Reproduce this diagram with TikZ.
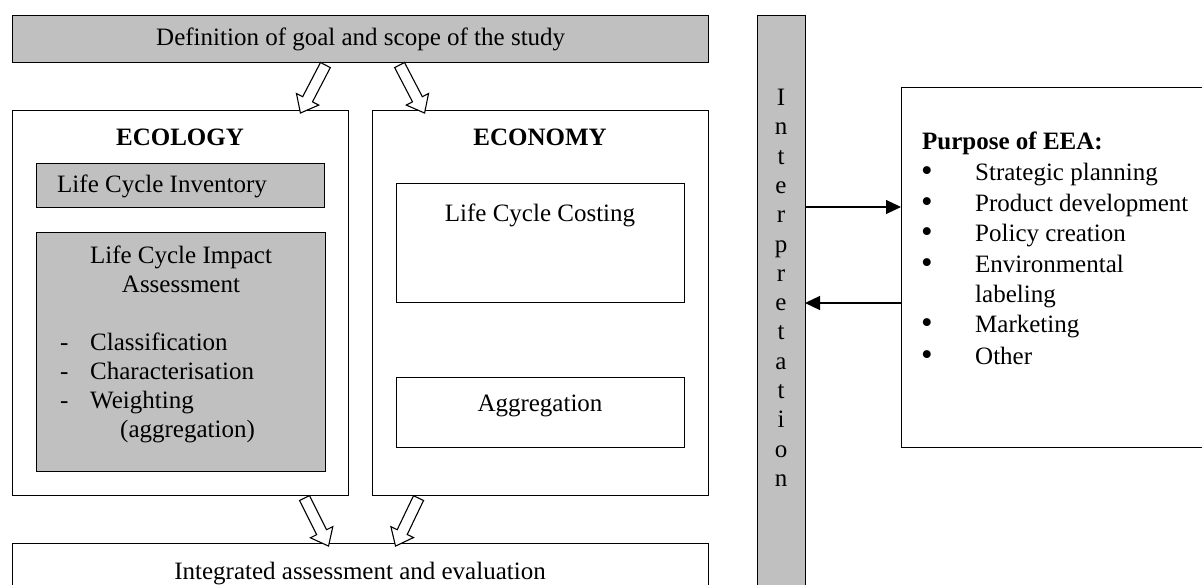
\documentclass[tikz,border=0pt]{standalone}
\usepackage{fontspec}
\setmainfont{Liberation Serif}
\usetikzlibrary{arrows.meta,shapes.arrows,calc}
\definecolor{boxgray}{HTML}{C0C0C0}
\newcommand\fsN{\fontsize{25}{29}\selectfont}
\newcommand\hollowarrow[2]{\path let \p1=($(#2)-(#1)$), \n1={atan2(\y1,\x1)}, \n2={veclen(\x1,\y1)} in node[hollow, minimum height=\n2, rotate=\n1] at ($(#1)!0.5!(#2)$) {};}
\begin{document}
\begin{tikzpicture}[x=1pt,y=-1pt,
  box/.style={draw, line width=1.4pt, inner sep=0pt, anchor=north west},
  gbox/.style={box, fill=boxgray},
  txt/.style={font=\fsN, inner sep=0pt},
  bullettxt/.style={font=\fontsize{33}{33}\selectfont, inner sep=0pt, anchor=base west},
  hollow/.style={single arrow, draw, line width=1.1pt, fill=white, inner sep=5pt, minimum width=24pt, single arrow head extend=7pt, single arrow tip angle=78, single arrow head indent=0pt},
  link/.style={line width=1.2pt, -{Triangle[length=15pt,width=14pt]}}]
\useasboundingbox (0,0) rectangle (1202,585);
\clip (0,0) rectangle (1202,585);
% top box
\node[gbox, minimum width=696pt, minimum height=47pt, font=\fsN] (goal) at (12,15) {Definition of goal and scope of the study};
% ecology
\node[box, minimum width=336pt, minimum height=385pt] (eco) at (12,110) {};
\node[txt, font=\fsN\bfseries, anchor=base] (ecot) at (180,146) {ECOLOGY};
\node[gbox, minimum width=288pt, minimum height=44pt] (lci) at (36,163) {};
\node[txt, anchor=base west] (lcit) at (57,193) {Life Cycle Inventory};
\node[gbox, minimum width=289pt, minimum height=239pt] (lcia) at (36,232) {};
\node[txt, anchor=base] (lciat1) at (181,264) {Life Cycle Impact};
\node[txt, anchor=base] (lciat2) at (181,293) {Assessment};
\foreach \yy/\t [count=\i] in {350/Classification, 379/Characterisation, 408/Weighting}{
  \node[txt, anchor=base west] (dash\i) at (60,\yy) {-};
  \node[txt, anchor=base west] (item\i) at (90,\yy) {\t};
}
\node[txt, anchor=base west] (item4) at (120,437) {(aggregation)};
% economy
\node[box, minimum width=336pt, minimum height=385pt] (econ) at (372,110) {};
\node[txt, font=\fsN\bfseries, anchor=base] (econt) at (540,146) {ECONOMY};
\node[box, minimum width=288pt, minimum height=119pt] (lcc) at (396,183) {};
\node[txt, anchor=base] (lcct) at (540,222) {Life Cycle Costing};
\node[box, minimum width=288pt, minimum height=70pt] (agg) at (396,377) {};
\node[txt, anchor=base] (aggt) at (540,411) {Aggregation};
% bottom
\node[box, minimum width=696pt, minimum height=70pt] (integ) at (12,543) {};
\node[txt, anchor=base] (integt) at (360,579) {Integrated assessment and evaluation};
% interpretation
\node[gbox, minimum width=48pt, minimum height=600pt] (interp) at (757,15) {};
\node[txt, anchor=north, align=center, font=\fontsize{25}{29.3}\selectfont] (interpt) at (781,89) {I\\n\\t\\e\\r\\p\\r\\e\\t\\a\\t\\i\\o\\n};
% purpose
\node[box, minimum width=320pt, minimum height=360pt] (purp) at (901,87) {};
\node[txt, font=\fsN\bfseries, anchor=base west] (purpt) at (922,150) {Purpose of EEA:};
\foreach \yy/\t [count=\i] in {181/Strategic planning, 212/Product development, 242/Policy creation, 273/Environmental, 333/Marketing, 364/Other}{
  \node[bullettxt] (bul\i) at (921,\yy+1) {\textbullet};
  \node[txt, anchor=base west] (pit\i) at (975,\yy) {\t};
}
\node[txt, anchor=base west] (pit7) at (975,303) {labeling};
% connectors
\coordinate (r1) at (805,207);
\coordinate (r2) at (901,207);
\coordinate (l1) at (901,303);
\coordinate (l2) at (805,303);
\draw[link] (r1) -- (r2);
\draw[link] (l1) -- (l2);
% block arrows
\coordinate (a1s) at (327,62);  \coordinate (a1e) at (302,110);
\coordinate (a2s) at (398,62);  \coordinate (a2e) at (423,110);
\coordinate (a3s) at (303,495); \coordinate (a3e) at (327,543);
\coordinate (a4s) at (420,495); \coordinate (a4e) at (397,543);
\hollowarrow{a1s}{a1e}
\hollowarrow{a2s}{a2e}
\hollowarrow{a3s}{a3e}
\hollowarrow{a4s}{a4e}
\end{tikzpicture}
\end{document}
